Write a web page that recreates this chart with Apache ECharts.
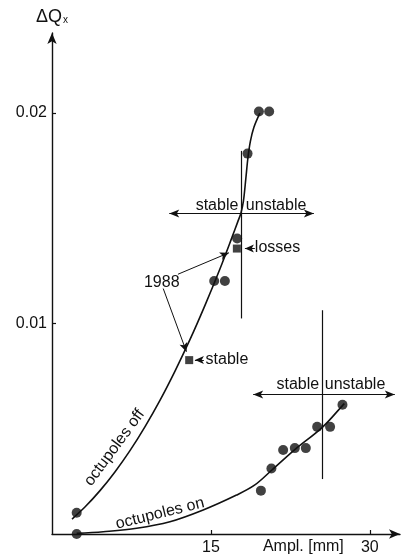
<!DOCTYPE html>
<html>
<head>
<meta charset="utf-8">
<script src="https://cdn.jsdelivr.net/npm/echarts@6/dist/echarts.min.js"></script>
<style>
  html, body { margin: 0; padding: 0; background: #fff; }
  #chart { width: 406px; height: 557px; }
</style>
</head>
<body>
<div id="chart"></div>
<script>
// Horizontal tune shift ΔQx versus beam amplitude, octupoles off / on.

// Axis ticks
const xTicks = [15, 30];
const yTicks = [0.01, 0.02];

// Measured points, octupoles off (mm, ΔQx)
const offAmpl  = [2.33, 15.31, 16.32, 17.48, 18.46, 19.53, 20.50];
const offShift = [0.00101, 0.01202, 0.01202, 0.01404, 0.01807, 0.02007, 0.02007];

// Measured points, octupoles on
const onAmpl  = [2.33, 19.72, 20.71, 21.82, 22.92, 23.96, 25.03, 26.25, 27.42];
const onShift = [0.00000, 0.00206, 0.00311, 0.00399, 0.00408, 0.00408, 0.00509, 0.00509, 0.00614];

// 1988 measurements (squares)
const y1988Ampl  = [12.95, 17.45];
const y1988Shift = [0.00826, 0.01356];

// Fitted curve, octupoles off
const offFitAmpl  = [1.89, 3.11, 4.53, 5.94, 7.36, 8.77, 10.19, 11.60, 13.02, 14.43, 15.85, 16.98, 17.55, 17.83, 18.07, 18.30, 18.49, 18.73, 19.06, 19.62];
const offFitShift = [0.00071, 0.00128, 0.00206, 0.00295, 0.00396, 0.00509, 0.00635, 0.00773, 0.00923, 0.01085, 0.01259, 0.01408, 0.01485, 0.01524, 0.01581, 0.01690, 0.01785, 0.01866, 0.01932, 0.01999];

// Fitted curve, octupoles on
const onFitAmpl  = [2.33, 4.84, 7.99, 11.13, 14.27, 17.42, 19.15, 20.76, 22.92, 25.54, 27.42, 27.60];
const onFitShift = [0.00003, 0.00011, 0.00027, 0.00058, 0.00114, 0.00185, 0.00233, 0.00304, 0.00401, 0.00508, 0.00610, 0.00619];

// Stability limits: amplitude, vertical extent, horizontal arrow span and level
const limitAmpl   = [17.83, 25.47];
const limitLow    = [0.01024, 0.00261];
const limitHigh   = [0.01820, 0.01063];
const arrowFrom   = [11.07, 18.99];
const arrowTo     = [24.72, 32.36];
const arrowLevel  = [0.01522, 0.00663];

const XMAX = 32.85;
const YMAX = 0.02380;
const INK = '#111';
const FONT = '"Liberation Sans", Arial, Helvetica, sans-serif';

const pairs = (xs, ys) => xs.map((x, i) => [x, ys[i]]);

const chart = echarts.init(document.getElementById('chart'), null, { renderer: 'canvas' });

// vertical limit lines plus double-headed stable/unstable arrows
const limitLines = [];
limitAmpl.forEach((a, i) => {
  limitLines.push([
    { coord: [a, limitLow[i]], symbol: 'none' },
    { coord: [a, limitHigh[i]], symbol: 'none' }
  ]);
  limitLines.push([
    { coord: [arrowFrom[i], arrowLevel[i]], symbol: 'arrow', symbolSize: [6, 10] },
    { coord: [arrowTo[i], arrowLevel[i]], symbol: 'arrow', symbolSize: [6, 10] }
  ]);
});

// small pointer arrows from labels
const pointers = [
  [[19.15, 0.01356], [18.21, 0.01356]],
  [[14.34, 0.00826], [13.49, 0.00826]],
  [[11.89, 0.01234], [16.70, 0.01336]],
  [[10.50, 0.01166], [12.69, 0.00866]]
].map(([a, b]) => [
  { coord: a, symbol: 'none' },
  { coord: b, symbol: 'arrow', symbolSize: [6, 9] }
]);

const axisCommon = {
  type: 'value',
  splitLine: { show: false },
  axisLine: {
    show: true, onZero: false,
    symbol: ['none', 'arrow'], symbolSize: [7, 11],
    lineStyle: { color: INK, width: 1.4 }
  },
  axisTick: { show: true, inside: true, length: 4, lineStyle: { color: INK, width: 1.2 } },
};

chart.setOption({
  animation: false,
  backgroundColor: '#fff',
  grid: { left: 52, top: 33, right: 406 - 400, bottom: 557 - 534, outerBoundsMode: 'none', containLabel: false },
  xAxis: Object.assign({}, axisCommon, {
    min: 0, max: XMAX,
    axisTick: Object.assign({}, axisCommon.axisTick, { customValues: xTicks }),
    axisLabel: { customValues: xTicks, margin: 6, fontSize: 16, color: INK, fontFamily: FONT }
  }),
  yAxis: Object.assign({}, axisCommon, {
    min: 0, max: YMAX,
    axisTick: Object.assign({}, axisCommon.axisTick, { customValues: yTicks }),
    axisLabel: { customValues: yTicks, margin: 5, fontSize: 16, color: INK, fontFamily: FONT,
                 formatter: v => v.toFixed(2) },
    name: '{q|ΔQ}{s|x}',
    nameLocation: 'end',
    nameGap: 7,
    nameTextStyle: {
      rich: {
        q: { fontSize: 18, color: INK, fontFamily: FONT },
        s: { fontSize: 10, color: INK, fontFamily: FONT, padding: [6, 0, 0, 1] }
      }
    }
  }),
  series: [
    {
      name: 'octupoles off fit', type: 'line', data: pairs(offFitAmpl, offFitShift),
      showSymbol: false, smooth: 0.3, silent: true,
      lineStyle: { color: INK, width: 1.6 }
    },
    {
      name: 'octupoles on fit', type: 'line', data: pairs(onFitAmpl, onFitShift),
      showSymbol: false, smooth: 0.35, silent: true,
      lineStyle: { color: INK, width: 1.6 }
    },
    {
      name: 'octupoles off', type: 'scatter', data: pairs(offAmpl, offShift),
      symbol: 'circle', symbolSize: 10, itemStyle: { color: INK }, silent: true
    },
    {
      name: 'octupoles on', type: 'scatter', data: pairs(onAmpl, onShift),
      symbol: 'circle', symbolSize: 10, itemStyle: { color: INK }, silent: true
    },
    {
      name: '1988', type: 'scatter', data: pairs(y1988Ampl, y1988Shift),
      symbol: 'rect', symbolSize: 8, itemStyle: { color: INK }, silent: true
    },
    {
      name: 'limits', type: 'scatter', data: [], silent: true,
      markLine: {
        silent: true, animation: false,
        label: { show: false },
        lineStyle: { color: INK, width: 1.2, type: 'solid' },
        emphasis: { disabled: true },
        data: limitLines
      }
    },
    {
      name: 'pointers', type: 'scatter', data: [], silent: true,
      markLine: {
        silent: true, animation: false,
        label: { show: false },
        lineStyle: { color: INK, width: 1, type: 'solid' },
        emphasis: { disabled: true },
        data: pointers
      }
    }
  ]
});

// Text annotations anchored in data coordinates
const notes = [
  { text: 'stable',   x: 17.59, y: 0.01561, align: 'right' },
  { text: 'unstable', x: 18.30, y: 0.01561, align: 'left' },
  { text: 'stable',   x: 25.22, y: 0.00710, align: 'right' },
  { text: 'unstable', x: 25.75, y: 0.00710, align: 'left' },
  { text: 'losses',   x: 19.15, y: 0.01359, align: 'left' },
  { text: 'stable',   x: 14.50, y: 0.00828, align: 'left' },
  { text: '1988',     x: 8.68,  y: 0.01195, align: 'left' },
  { text: 'octupoles off', x: 5.90,  y: 0.00410, align: 'center', rot: 53.5 },
  { text: 'octupoles on',  x: 10.20, y: 0.00097, align: 'center', rot: 14 },
  { text: 'Ampl. [mm]',    x: 19.91, y: -0.00062, align: 'left' }
];

chart.setOption({
  graphic: notes.map(n => {
    const p = chart.convertToPixel({ gridIndex: 0 }, [n.x, n.y]);
    return {
      type: 'text', x: p[0], y: p[1], silent: true,
      rotation: (n.rot || 0) * Math.PI / 180,
      style: { text: n.text, font: '16px ' + FONT, fill: INK, align: n.align, verticalAlign: 'middle' }
    };
  })
});
</script>
</body>
</html>
